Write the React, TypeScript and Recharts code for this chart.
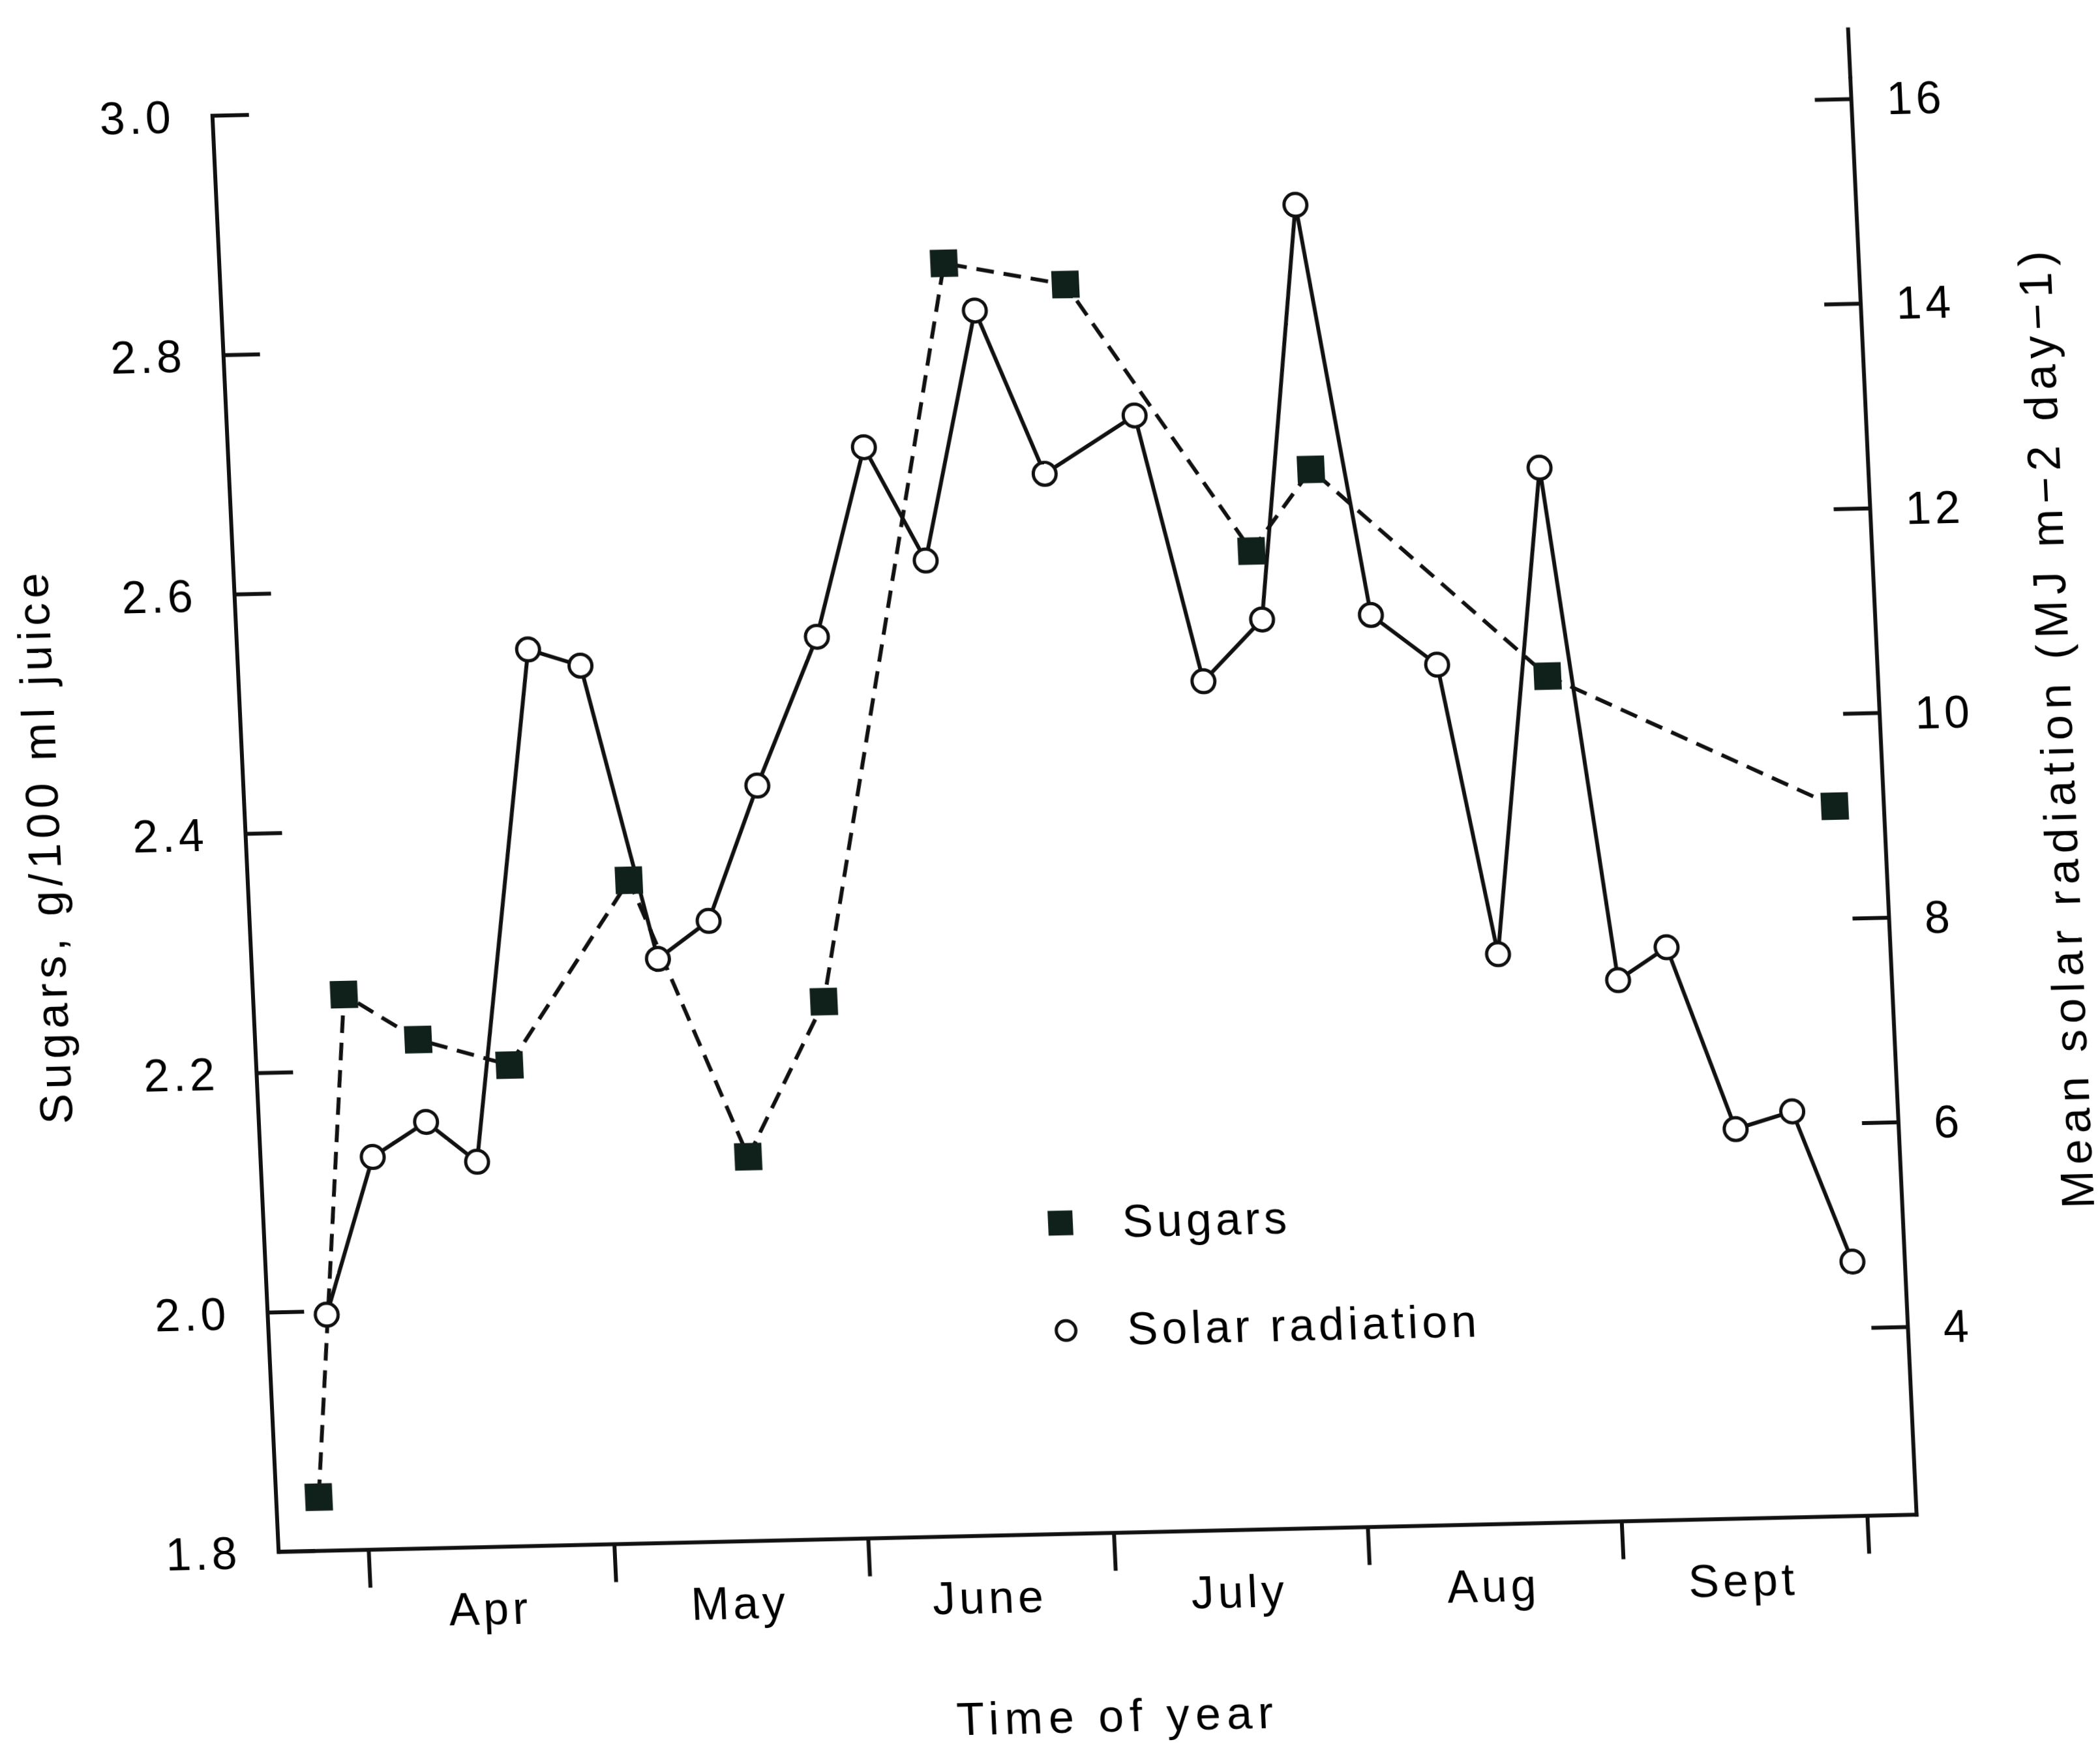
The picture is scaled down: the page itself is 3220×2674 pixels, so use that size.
import React from 'react';
import { LineChart, Line, XAxis, YAxis, ReferenceLine, Legend } from 'recharts';

// ---------- data (x = day of year) ----------
const sugarDays = [85.2, 91.1, 99.9, 110.9, 126.5, 139.5, 149.6, 168.4, 183.1, 204.3, 212.0, 239.7, 274.0];
const sugarValues = [1.845, 2.264, 2.225, 2.202, 2.354, 2.121, 2.249, 2.863, 2.843, 2.617, 2.684, 2.507, 2.393];

const solarDays = [
  87.2, 93.7, 100.4, 106.4, 115.5, 121.8, 129.6, 136.0, 142.7, 150.8, 157.6, 164.5, 171.9, 179.5,
  190.8, 197.7, 205.2, 211.6, 218.5, 226.3, 232.1, 239.9, 246.6, 252.7, 260.1, 267.1, 273.6,
];
const solarValues = [
  4.47, 6.0, 6.33, 5.93, 10.92, 10.75, 7.87, 8.23, 9.54, 10.98, 12.82, 11.7, 14.13, 12.52,
  13.07, 10.46, 11.05, 15.09, 11.07, 10.57, 7.73, 12.47, 7.45, 7.76, 5.97, 6.13, 4.65,
];

const monthStartDays = [91, 121, 152, 182, 213, 244, 274];
const monthMidDays = [105.5, 136, 166.5, 197, 228, 258.5];
const monthLabels = ['Apr', 'May', 'June', 'July', 'Aug', 'Sept'];
const sugarTicks = [1.8, 2.0, 2.2, 2.4, 2.6, 2.8, 3.0];
const solarTicks = [4, 6, 8, 10, 12, 14, 16];
const dayDomain: [number, number] = [80, 280];
const sugarDomain: [number, number] = [1.8, 3.0];
const solarDomain: [number, number] = [2.165, 16.2];
const solarAxisTop = 16.7;
const legendOrder = ['sugar', 'solar'];

const sugarData = sugarDays.map((day, i) => ({ day, sugar: sugarValues[i] }));
const solarData = solarDays.map((day, i) => ({ day, solar: solarValues[i] }));
const xTicks = [...monthStartDays, ...monthMidDays].sort((a, b) => a - b);

// ---------- layout ----------
const W = 3280;
const H = 2770;
const PLOT = { left: 400, top: 200, width: 2512, height: 2204 };
const X_AXIS_H = 200;
const RIGHT_AXIS_W = W - PLOT.left - PLOT.width;
const BOTTOM_MARGIN = H - PLOT.top - PLOT.height - X_AXIS_H;

// the scanned figure is sheared/tilted: where the plot rectangle lands on the page
const PAGE = { x0: 325.75, y0: 177.5, ux: 2511.5, uy: -57, vx: 101.5, vy: 2202 };
const ma = PAGE.ux / PLOT.width;
const mb = PAGE.uy / PLOT.width;
const mc = PAGE.vx / PLOT.height;
const md = PAGE.vy / PLOT.height;
const me = PAGE.x0 - ma * PLOT.left - mc * PLOT.top;
const mf = PAGE.y0 - mb * PLOT.left - md * PLOT.top;

const INK = '#111111';
const SQUARE = '#10201a';
const FONT = "'Liberation Sans', Arial, Helvetica, sans-serif";
const FS = 70;
const TICK_LEN = 58;

const SquareDot = (props: any) => {
  const { cx, cy, index } = props;
  if (cx == null || cy == null) return null;
  return <rect key={`sq-${index}`} x={cx - 21} y={cy - 21} width={42} height={42} fill={SQUARE} />;
};

// month boundaries get an outward tick mark, mid-months get the month name
const MonthTick = (props: any) => {
  const { x, y, payload, index } = props;
  const v = payload ? payload.value : undefined;
  if (monthStartDays.indexOf(v) >= 0) {
    return <line key={`mt-${index}`} x1={x} y1={y} x2={x} y2={y + TICK_LEN} stroke={INK} strokeWidth={6} />;
  }
  const mi = monthMidDays.indexOf(v);
  if (mi >= 0) {
    return (
      <text key={`ml-${index}`} x={x} y={y + 69} dy="0.71em" textAnchor="middle" fontSize={FS} fill="#000">
        {monthLabels[mi]}
      </text>
    );
  }
  return null;
};

const renderLegend = (props: any) => {
  const payload: any[] = props.payload || [];
  const ordered = legendOrder
    .map((k) => payload.find((p: any) => p.dataKey === k))
    .filter(Boolean);
  return (
    <div>
      {ordered.map((entry: any) => (
        <div key={entry.value} style={{ display: 'flex', alignItems: 'center', height: 165 }}>
          <svg width={50} height={50} style={{ display: 'block', flex: 'none' }}>
            {entry.dataKey === 'sugar' ? (
              <rect x={5} y={6} width={38} height={38} fill={SQUARE} />
            ) : (
              <circle cx={25} cy={25} r={15} fill="#fff" stroke={INK} strokeWidth={5} />
            )}
          </svg>
          <span style={{ marginLeft: 69, fontSize: FS, color: '#000', whiteSpace: 'nowrap', lineHeight: 'normal' }}>
            {entry.value}
          </span>
        </div>
      ))}
    </div>
  );
};

const axisLineStyle = { stroke: INK, strokeWidth: 6, strokeLinecap: 'square' as const };
const tickLineStyle = { stroke: INK, strokeWidth: 6 };
const tickText = { fill: '#000', fontSize: FS };

export default function App() {
  return (
    <div
      style={{
        position: 'fixed',
        left: 0,
        top: 0,
        width: W,
        height: H,
        transformOrigin: '0 0',
        transform: `matrix(${ma}, ${mb}, ${mc}, ${md}, ${me}, ${mf})`,
        fontFamily: FONT,
        letterSpacing: '6px',
        background: 'transparent',
      }}
    >
      <LineChart
        width={W}
        height={H}
        margin={{ top: PLOT.top, right: 0, bottom: BOTTOM_MARGIN, left: 0 }}
      >
        <XAxis
          xAxisId="t"
          dataKey="day"
          type="number"
          domain={dayDomain}
          allowDataOverflow
          ticks={xTicks}
          interval={0}
          height={X_AXIS_H}
          tickSize={0}
          tickMargin={0}
          axisLine={axisLineStyle}
          tickLine={false}
          tick={MonthTick}
        />
        <YAxis
          yAxisId="left"
          orientation="left"
          type="number"
          domain={sugarDomain}
          allowDataOverflow
          ticks={sugarTicks}
          interval={0}
          tickFormatter={(v: number) => v.toFixed(1)}
          width={PLOT.left}
          tickSize={-56}
          tickMargin={114}
          axisLine={axisLineStyle}
          tickLine={tickLineStyle}
          tick={tickText}
        />
        <YAxis
          yAxisId="right"
          orientation="right"
          type="number"
          domain={solarDomain}
          allowDataOverflow
          ticks={solarTicks}
          interval={0}
          width={RIGHT_AXIS_W}
          tickSize={-56}
          tickMargin={110}
          axisLine={axisLineStyle}
          tickLine={tickLineStyle}
          tick={tickText}
        />
        <ReferenceLine
          xAxisId="t"
          yAxisId="right"
          segment={[
            { x: dayDomain[1], y: solarDomain[1] },
            { x: dayDomain[1], y: solarAxisTop },
          ]}
          stroke={INK}
          strokeWidth={6}
          ifOverflow="visible"
        />
        <Line
          xAxisId="t"
          yAxisId="left"
          data={sugarData}
          dataKey="sugar"
          name="Sugars"
          type="linear"
          stroke={INK}
          strokeWidth={6}
          strokeDasharray="27 15"
          dot={SquareDot}
          activeDot={false}
          isAnimationActive={false}
        />
        <Line
          xAxisId="t"
          yAxisId="right"
          data={solarData}
          dataKey="solar"
          name="Solar radiation"
          type="linear"
          stroke={INK}
          strokeWidth={6}
          strokeLinejoin="round"
          dot={{ r: 17.5, fill: '#fff', stroke: INK, strokeWidth: 5 }}
          activeDot={false}
          isAnimationActive={false}
        />
        <Legend
          layout="vertical"
          align="center"
          verticalAlign="middle"
          content={renderLegend}
          wrapperStyle={{ left: 1597, top: 1844, width: 'auto' }}
        />
        <text
          x={91}
          y={1314}
          transform="rotate(-90 91 1314)"
          textAnchor="middle"
          dominantBaseline="central"
          fontSize={FS}
          fill="#000"
          style={{ letterSpacing: '7.3px' }}
        >
          Sugars, g/100 ml juice
        </text>
        <text
          x={3182}
          y={1201}
          transform="rotate(-90 3182 1201)"
          textAnchor="middle"
          dominantBaseline="central"
          fontSize={FS}
          fill="#000"
          style={{ letterSpacing: '9px' }}
        >
          Mean solar radiation (MJ m−2 day−1)
        </text>
        <text x={1674} y={2709} textAnchor="middle" fontSize={FS} fill="#000" style={{ letterSpacing: '9px' }}>
          Time of year
        </text>
      </LineChart>
    </div>
  );
}
